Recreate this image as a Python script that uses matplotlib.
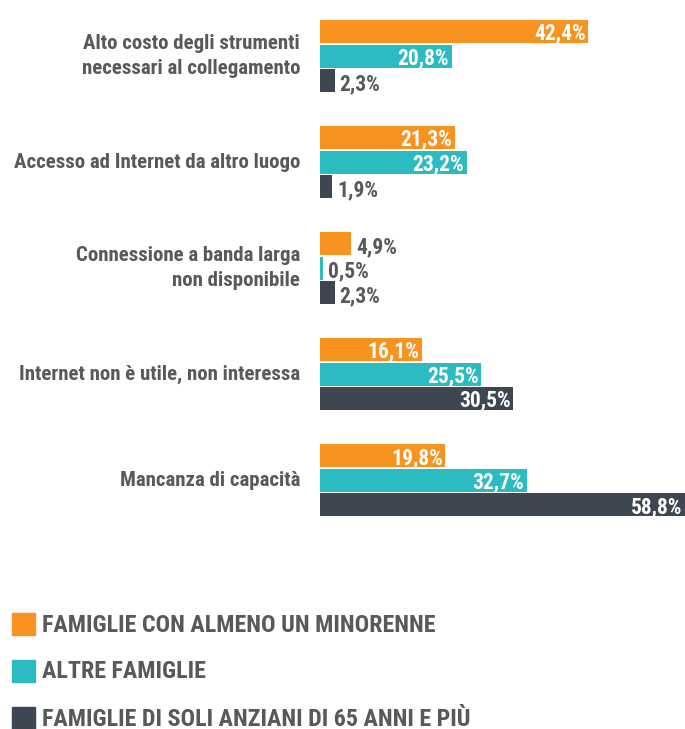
import matplotlib.pyplot as plt
from matplotlib.patches import Rectangle

# Motivi per cui le famiglie non hanno accesso a Internet (%)
categorie = [
    "Alto costo degli strumenti\nnecessari al collegamento",
    "Accesso ad Internet da altro luogo",
    "Connessione a banda larga\nnon disponibile",
    "Internet non è utile, non interessa",
    "Mancanza di capacità",
]
serie = [
    "FAMIGLIE CON ALMENO UN MINORENNE",
    "ALTRE FAMIGLIE",
    "FAMIGLIE DI SOLI ANZIANI DI 65 ANNI E PIÙ",
]
minorenni = [42.4, 21.3, 4.9, 16.1, 19.8]
altre = [20.8, 23.2, 0.5, 25.5, 32.7]
anziani = [2.3, 1.9, 2.3, 30.5, 58.8]

colori = ["#F7931E", "#2DBBC2", "#3E4651"]
grigio = "#58595B"
font = ["Roboto Condensed", "Roboto", "DejaVu Sans"]

W, H = 685, 729
fig = plt.figure(figsize=(W / 100, H / 100), dpi=100)
fig.patch.set_facecolor("white")

# axes in pixel units: x from 320 px to right edge, y top 0..540 px
ax_left = 320
ax_bottom = 540
ax = fig.add_axes([ax_left / W, 1 - ax_bottom / H, (W - ax_left) / W, ax_bottom / H])
xmax = (W - ax_left) / 6.33
ax.set_xlim(0, xmax)
ax.set_ylim(ax_bottom, 0)
ax.axis("off")

passo = 106.1
primo = 56
alt = 23
offset = [-24.5, 0, 24.5]

for s, valori in enumerate([minorenni, altre, anziani]):
    for i, v in enumerate(valori):
        y = primo + passo * i + offset[s]
        ax.barh(y, v, height=alt, color=colori[s], linewidth=0)
        etichetta = f"{v:.1f}%".replace(".", ",")
        if v >= 10:
            ax.text(min(v, xmax) - 0.4, y + 2, etichetta, ha="right", va="center",
                    color="white", fontsize=15.5, fontweight="bold", family=font)
        else:
            ax.text(v + 0.8, y + 3.5, etichetta, ha="left", va="center",
                    color=grigio, fontsize=15.5, fontweight="bold", family=font)

for i, c in enumerate(categorie):
    y = primo + passo * i
    fig.text(300 / W, 1 - y / H, c, ha="right", va="center", color=grigio,
             fontsize=15, fontweight="bold", family=font, linespacing=1.4)

# legenda
leg_y = [624, 670.5, 718]
for s, nome in enumerate(serie):
    y = leg_y[s]
    fig.patches.append(Rectangle((12 / W, 1 - (y + 11) / H), 23 / W, 22 / H,
                                 transform=fig.transFigure, color=colori[s]))
    fig.text(42 / W, 1 - (y + 1) / H, nome, ha="left", va="center", color=grigio,
             fontsize=17.3, fontweight="bold", family=font)

fig.savefig("out.png", dpi=100)
